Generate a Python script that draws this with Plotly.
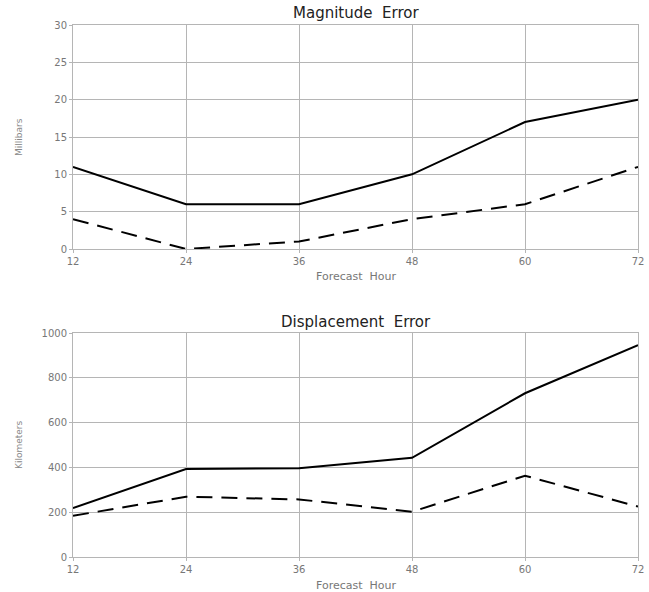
import plotly.graph_objects as go

hours = [12, 24, 36, 48, 60, 72]
mag_solid = [11, 6, 6, 10, 17, 20]
mag_dashed = [4, 0, 1, 4, 6, 11]
disp_solid = [218, 393, 396, 443, 731, 946]
disp_dashed = [184, 269, 257, 202, 363, 225]

W, H = 649, 592
L, R, T, B = 73, 11, 25, 35
plot_h = H - T - B
top_dom = [(557 - 249) / plot_h, 1.0]
bot_dom = [0.0, 224 / plot_h]

fig = go.Figure()
line_solid = dict(color="black", width=2)
line_dash = dict(color="black", width=2, dash="16px,9px")

fig.add_trace(go.Scatter(x=hours, y=mag_solid, mode="lines", line=line_solid, xaxis="x", yaxis="y"))
fig.add_trace(go.Scatter(x=hours, y=mag_dashed, mode="lines", line=line_dash, xaxis="x", yaxis="y"))
fig.add_trace(go.Scatter(x=hours, y=disp_solid, mode="lines", line=line_solid, xaxis="x2", yaxis="y2"))
fig.add_trace(go.Scatter(x=hours, y=disp_dashed, mode="lines", line=line_dash, xaxis="x2", yaxis="y2"))

tickfont = dict(family="DejaVu Sans", size=10, color="#777")
axcommon = dict(showgrid=True, gridcolor="#b5b5b5", gridwidth=1, showline=True, linecolor="#b5b5b5",
                linewidth=1, mirror=True, zeroline=False, tickfont=tickfont, ticks="outside",
                ticklen=3, tickcolor="#b5b5b5", automargin=False)

fig.update_layout(
    width=W, height=H, margin=dict(l=L, r=R, t=T, b=B),
    paper_bgcolor="white", plot_bgcolor="white", showlegend=False,
    xaxis=dict(domain=[0, 1], anchor="y", range=[12, 72], tickvals=hours, **axcommon),
    yaxis=dict(domain=top_dom, anchor="x", range=[0, 30], tickvals=[0, 5, 10, 15, 20, 25, 30], **axcommon),
    xaxis2=dict(domain=[0, 1], anchor="y2", range=[12, 72], tickvals=hours, **axcommon),
    yaxis2=dict(domain=bot_dom, anchor="x2", range=[0, 1000], tickvals=[0, 200, 400, 600, 800, 1000], **axcommon),
)

def px_x(px):
    return (px - L) / (W - L - R)

def px_y(py):
    return (H - B - py) / plot_h

anns = [
    dict(text="Magnitude  Error", x=px_x(356), y=px_y(13), font=dict(family="DejaVu Sans", size=15, color="#222")),
    dict(text="Displacement  Error", x=px_x(356), y=px_y(322), font=dict(family="DejaVu Sans", size=15, color="#222")),
    dict(text="Forecast  Hour", x=px_x(356), y=px_y(276), font=dict(family="DejaVu Sans", size=11, color="#777")),
    dict(text="Forecast  Hour", x=px_x(356), y=px_y(585), font=dict(family="DejaVu Sans", size=11, color="#777")),
    dict(text="Millibars", x=px_x(19), y=px_y(137), textangle=-90, font=dict(family="DejaVu Sans", size=9, color="#888")),
    dict(text="Kilometers", x=px_x(19), y=px_y(445), textangle=-90, font=dict(family="DejaVu Sans", size=9, color="#888")),
]
for a in anns:
    a.update(xref="paper", yref="paper", showarrow=False, xanchor="center", yanchor="middle")
fig.update_layout(annotations=anns)

fig.write_html("out.html")
